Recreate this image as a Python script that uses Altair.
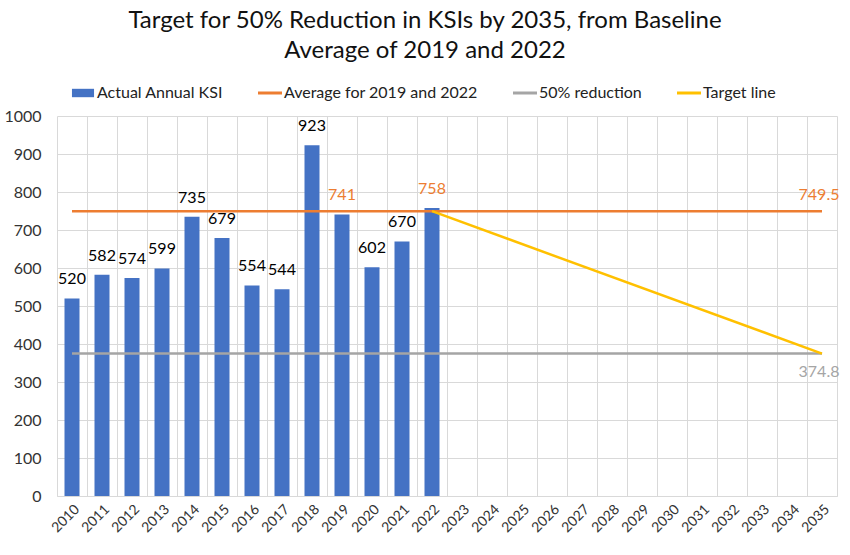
import altair as alt
import pandas as pd

# ---------------- data ----------------
years = ["2010", "2011", "2012", "2013", "2014", "2015", "2016", "2017", "2018",
         "2019", "2020", "2021", "2022", "2023", "2024", "2025", "2026", "2027",
         "2028", "2029", "2030", "2031", "2032", "2033", "2034", "2035"]
actual_years = years[:13]
actual_ksi = [520, 582, 574, 599, 735, 679, 554, 544, 923, 741, 602, 670, 758]
baseline_avg = 749.5
reduction_50 = 374.8
target_years = ["2022", "2035"]
target_values = [749.5, 374.8]
highlight_years = ["2019", "2022"]

series_names = ["Actual Annual KSI", "Average for 2019 and 2022", "50% reduction", "Target line"]
series_colors = ["#4472C4", "#ED7D31", "#A5A5A5", "#FFC000"]
BLUE, ORANGE, GRAY, YELLOW = series_colors

FONT = "Lato"

df_bars = pd.DataFrame({"year": actual_years, "value": actual_ksi})
df_avg = pd.DataFrame({"year": years, "value": [baseline_avg] * len(years)})
df_red = pd.DataFrame({"year": years, "value": [reduction_50] * len(years)})
df_target = pd.DataFrame({"year": target_years, "value": target_values})
df_end_avg = pd.DataFrame({"year": [years[-1]], "value": [baseline_avg], "label": ["749.5"]})
df_end_red = pd.DataFrame({"year": [years[-1]], "value": [reduction_50], "label": ["374.8"]})
df_legend = pd.DataFrame({"year": [years[0]] * 4, "value": [0] * 4, "series": series_names})

x_enc = alt.X(
    "year:O",
    scale=alt.Scale(domain=years, paddingInner=0, paddingOuter=0),
    axis=alt.Axis(
        title=None, labelAngle=315, labelFontSize=14, labelFont=FONT,
        labelColor="#333333", grid=True, gridColor="#D9D9D9", tickBand="extent",
        ticks=False, domainColor="#D9D9D9", labelPadding=6,
    ),
)
y_enc = alt.Y(
    "value:Q",
    scale=alt.Scale(domain=[0, 1000], nice=False),
    axis=alt.Axis(
        title=None, values=list(range(0, 1001, 100)), format="d", labelFontSize=16,
        labelFont=FONT, labelColor="#333333", grid=True, gridColor="#D9D9D9",
        domain=False, ticks=False, labelPadding=16,
    ),
)

bars = alt.Chart(df_bars).mark_bar(width=alt.RelativeBandSize(0.5), color=BLUE).encode(x=x_enc, y=y_enc)

avg_line = alt.Chart(df_avg).mark_line(color=ORANGE, strokeWidth=2.5).encode(x=x_enc, y=y_enc)
red_line = alt.Chart(df_red).mark_line(color=GRAY, strokeWidth=2.5).encode(x=x_enc, y=y_enc)
target_line = alt.Chart(df_target).mark_line(color=YELLOW, strokeWidth=2.5).encode(x=x_enc, y=y_enc)

bar_labels = alt.Chart(df_bars).mark_text(
    dy=-19, fontSize=16, font=FONT
).encode(
    x=x_enc, y=y_enc, text=alt.Text("value:Q"),
    color=alt.condition(alt.FieldOneOfPredicate(field="year", oneOf=highlight_years),
                        alt.value(ORANGE), alt.value("black")),
)

end_avg = alt.Chart(df_end_avg).mark_text(
    dy=-16, dx=-3, fontSize=16, font=FONT, color=ORANGE
).encode(x=x_enc, y=y_enc, text="label:N")
end_red = alt.Chart(df_end_red).mark_text(
    dy=18, dx=-3, fontSize=16, font=FONT, color=GRAY
).encode(x=x_enc, y=y_enc, text="label:N")

rect_sym = "M-0.92,-0.35H0.92V0.35H-0.92Z"
dash_sym = "M-1,-0.125H1V0.125H-1Z"
legend_layer = alt.Chart(df_legend).mark_point(filled=True, opacity=0).encode(
    x=x_enc, y=y_enc,
    color=alt.Color("series:N", scale=alt.Scale(domain=series_names, range=series_colors),
                    legend=alt.Legend(title=None)),
    shape=alt.Shape("series:N",
                    scale=alt.Scale(domain=series_names, range=[rect_sym, dash_sym, dash_sym, dash_sym]),
                    legend=alt.Legend(title=None)),
)

chart = alt.layer(
    bars, red_line, avg_line, target_line, bar_labels, end_avg, end_red, legend_layer
).properties(
    width=780, height=380,
    title=alt.TitleParams(
        ["Target for 50% Reduction in KSIs by 2035, from Baseline", "Average of 2019 and 2022"],
        fontSize=24, font=FONT, fontWeight="normal", color="#111111",
        anchor="middle", dx=-22, lineHeight=30, offset=18,
    ),
    padding={"left": 57, "top": 116, "right": 13, "bottom": 59},
    autosize=alt.AutoSizeParams(type="none"),
).configure_view(strokeWidth=0).configure_legend(
    orient="none", legendX=14, legendY=-35, direction="horizontal",
    labelFontSize=16, labelFont=FONT, labelColor="#222222", symbolOpacity=1,
    symbolSize=576, columnPadding=35, labelOffset=2, symbolStrokeWidth=0,
    labelLimit=400,
)

chart.save("out.html", embed_options={"renderer": "svg", "actions": False})
